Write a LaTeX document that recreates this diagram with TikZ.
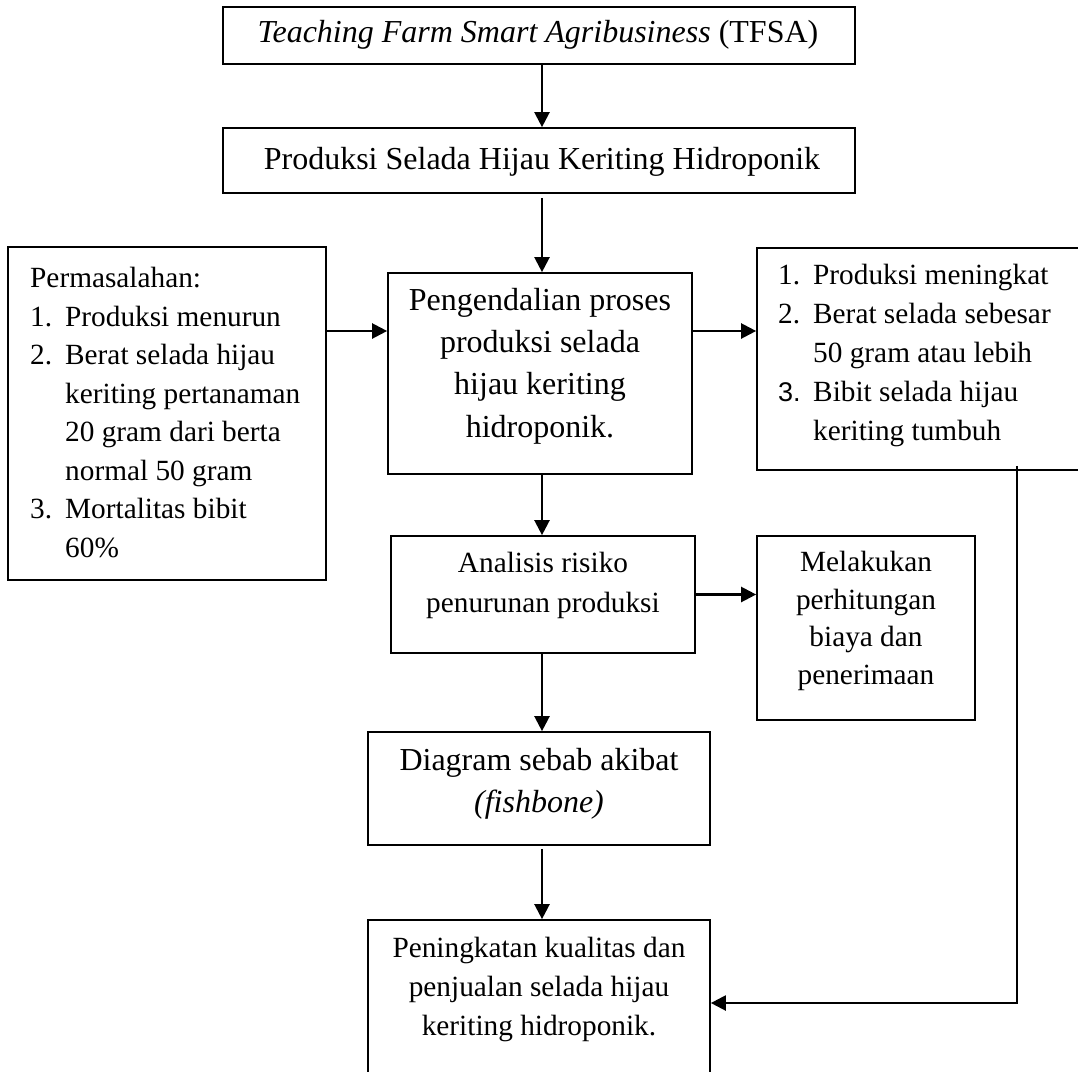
\documentclass[tikz,border=0pt]{standalone}
\usepackage{fontspec}
\setmainfont{Liberation Serif}
\newfontfamily\numsans{Liberation Sans}
\usetikzlibrary{arrows.meta}
\newcommand{\bodyfont}[1]{\fontsize{32pt}{#1pt}\selectfont}
\newcommand{\smallfont}[1]{\fontsize{29.3pt}{#1pt}\selectfont}
\newcommand{\itm}[1]{\makebox[35pt][l]{#1}}
\newcommand{\ind}{\hspace*{35pt}}
\begin{document}
\begin{tikzpicture}[x=1pt,y=-1pt,
  box/.style={draw, line width=1.7pt, inner sep=0pt},
  txt/.style={inner sep=0pt, align=center},
  arr/.style={line width=2.3pt, -{Triangle[length=15pt,width=15pt]}}]
\useasboundingbox (0,0) rectangle (1078,1071);
\clip (0,0) rectangle (1078,1071);

% boxes
\node[box, minimum width=632pt, minimum height=57pt]  (tfsa)   at (539,35.5)  {};
\node[box, minimum width=632pt, minimum height=65pt]  (prod)   at (539,160.5) {};
\node[box, minimum width=318pt, minimum height=333pt] (masalah) at (167,413.5) {};
\node[box, minimum width=304pt, minimum height=201pt] (pengend) at (540,373.5) {};
\node[box, minimum width=343pt, minimum height=222pt] (hasil)  at (928.5,359) {};
\node[box, minimum width=304pt, minimum height=117pt] (analisis) at (543,594.5) {};
\node[box, minimum width=218pt, minimum height=184pt] (biaya)  at (866,628) {};
\node[box, minimum width=342pt, minimum height=113pt] (fish)   at (539,788.5) {};
\node[box, minimum width=342pt, minimum height=165pt] (mutu)   at (539,1002.5) {};

% texts
\node[txt, font={\bodyfont{39}}] (tfsaT) at (538,35) {\textit{Teaching Farm Smart Agribusiness} (TFSA)};
\node[txt, font={\bodyfont{39}}] (prodT) at (542,162) {Produksi Selada Hijau Keriting Hidroponik};
\node[txt, align=left, anchor=west, font={\smallfont{38.5}}] (masalahT) at (30,412.5)
  {Permasalahan:\\\itm{1.}Produksi menurun\\\itm{2.}Berat selada hijau\\\ind keriting pertanaman\\\ind 20 gram dari berta\\\ind normal 50 gram\\\itm{3.}Mortalitas bibit\\\ind 60\%};
\node[txt, font={\bodyfont{42.3}}] (pengendT) at (540,366)
  {Pengendalian proses\\produksi selada\\hijau keriting\\hidroponik.};
\node[txt, align=left, anchor=west, font={\smallfont{39}}] (hasilT) at (778,355)
  {\itm{1.}Produksi meningkat\\\itm{2.}Berat selada sebesar\\\ind 50 gram atau lebih\\\itm{{\numsans\fontsize{27pt}{39pt}\selectfont 3.}}Bibit selada hijau\\\ind keriting tumbuh};
\node[txt, font={\smallfont{40}}] (analisisT) at (543,585) {Analisis risiko\\penurunan produksi};
\node[txt, font={\smallfont{37.7}}] (biayaT) at (866,621) {Melakukan\\perhitungan\\biaya dan\\penerimaan};
\node[txt, font={\bodyfont{42}}] (fishT) at (539,784) {Diagram sebab akibat\\\textit{(fishbone)}};
\node[txt, font={\smallfont{39}}] (mutuT) at (539,989) {Peningkatan kualitas dan\\penjualan selada hijau\\keriting hidroponik.};

% helper coordinates
\coordinate (axis) at (542,0);
\coordinate (rowA) at (0,331);
\coordinate (fbx) at (1017,0);
\coordinate (rowB) at (0,1003);

% connectors
\draw[arr] (tfsa.south -| axis) -- (prod.north -| axis);
\draw[arr] ([yshift=-4pt]prod.south -| axis) -- (pengend.north -| axis);
\draw[arr] (pengend.south -| axis) -- (analisis.north -| axis);
\draw[arr] (analisis.south -| axis) -- (fish.north -| axis);
\draw[arr] ([yshift=-3pt]fish.south -| axis) -- (mutu.north -| axis);
\draw[arr] (masalah.east |- rowA) -- (pengend.west |- rowA);
\draw[arr] (pengend.east |- rowA) -- (hasil.west |- rowA);
\draw[arr] (analisis.east) -- (biaya.west |- analisis.east);
\draw[arr] ([yshift=5pt]hasil.south -| fbx) -- (fbx |- rowB) -- (mutu.east |- rowB);
\end{tikzpicture}
\end{document}
